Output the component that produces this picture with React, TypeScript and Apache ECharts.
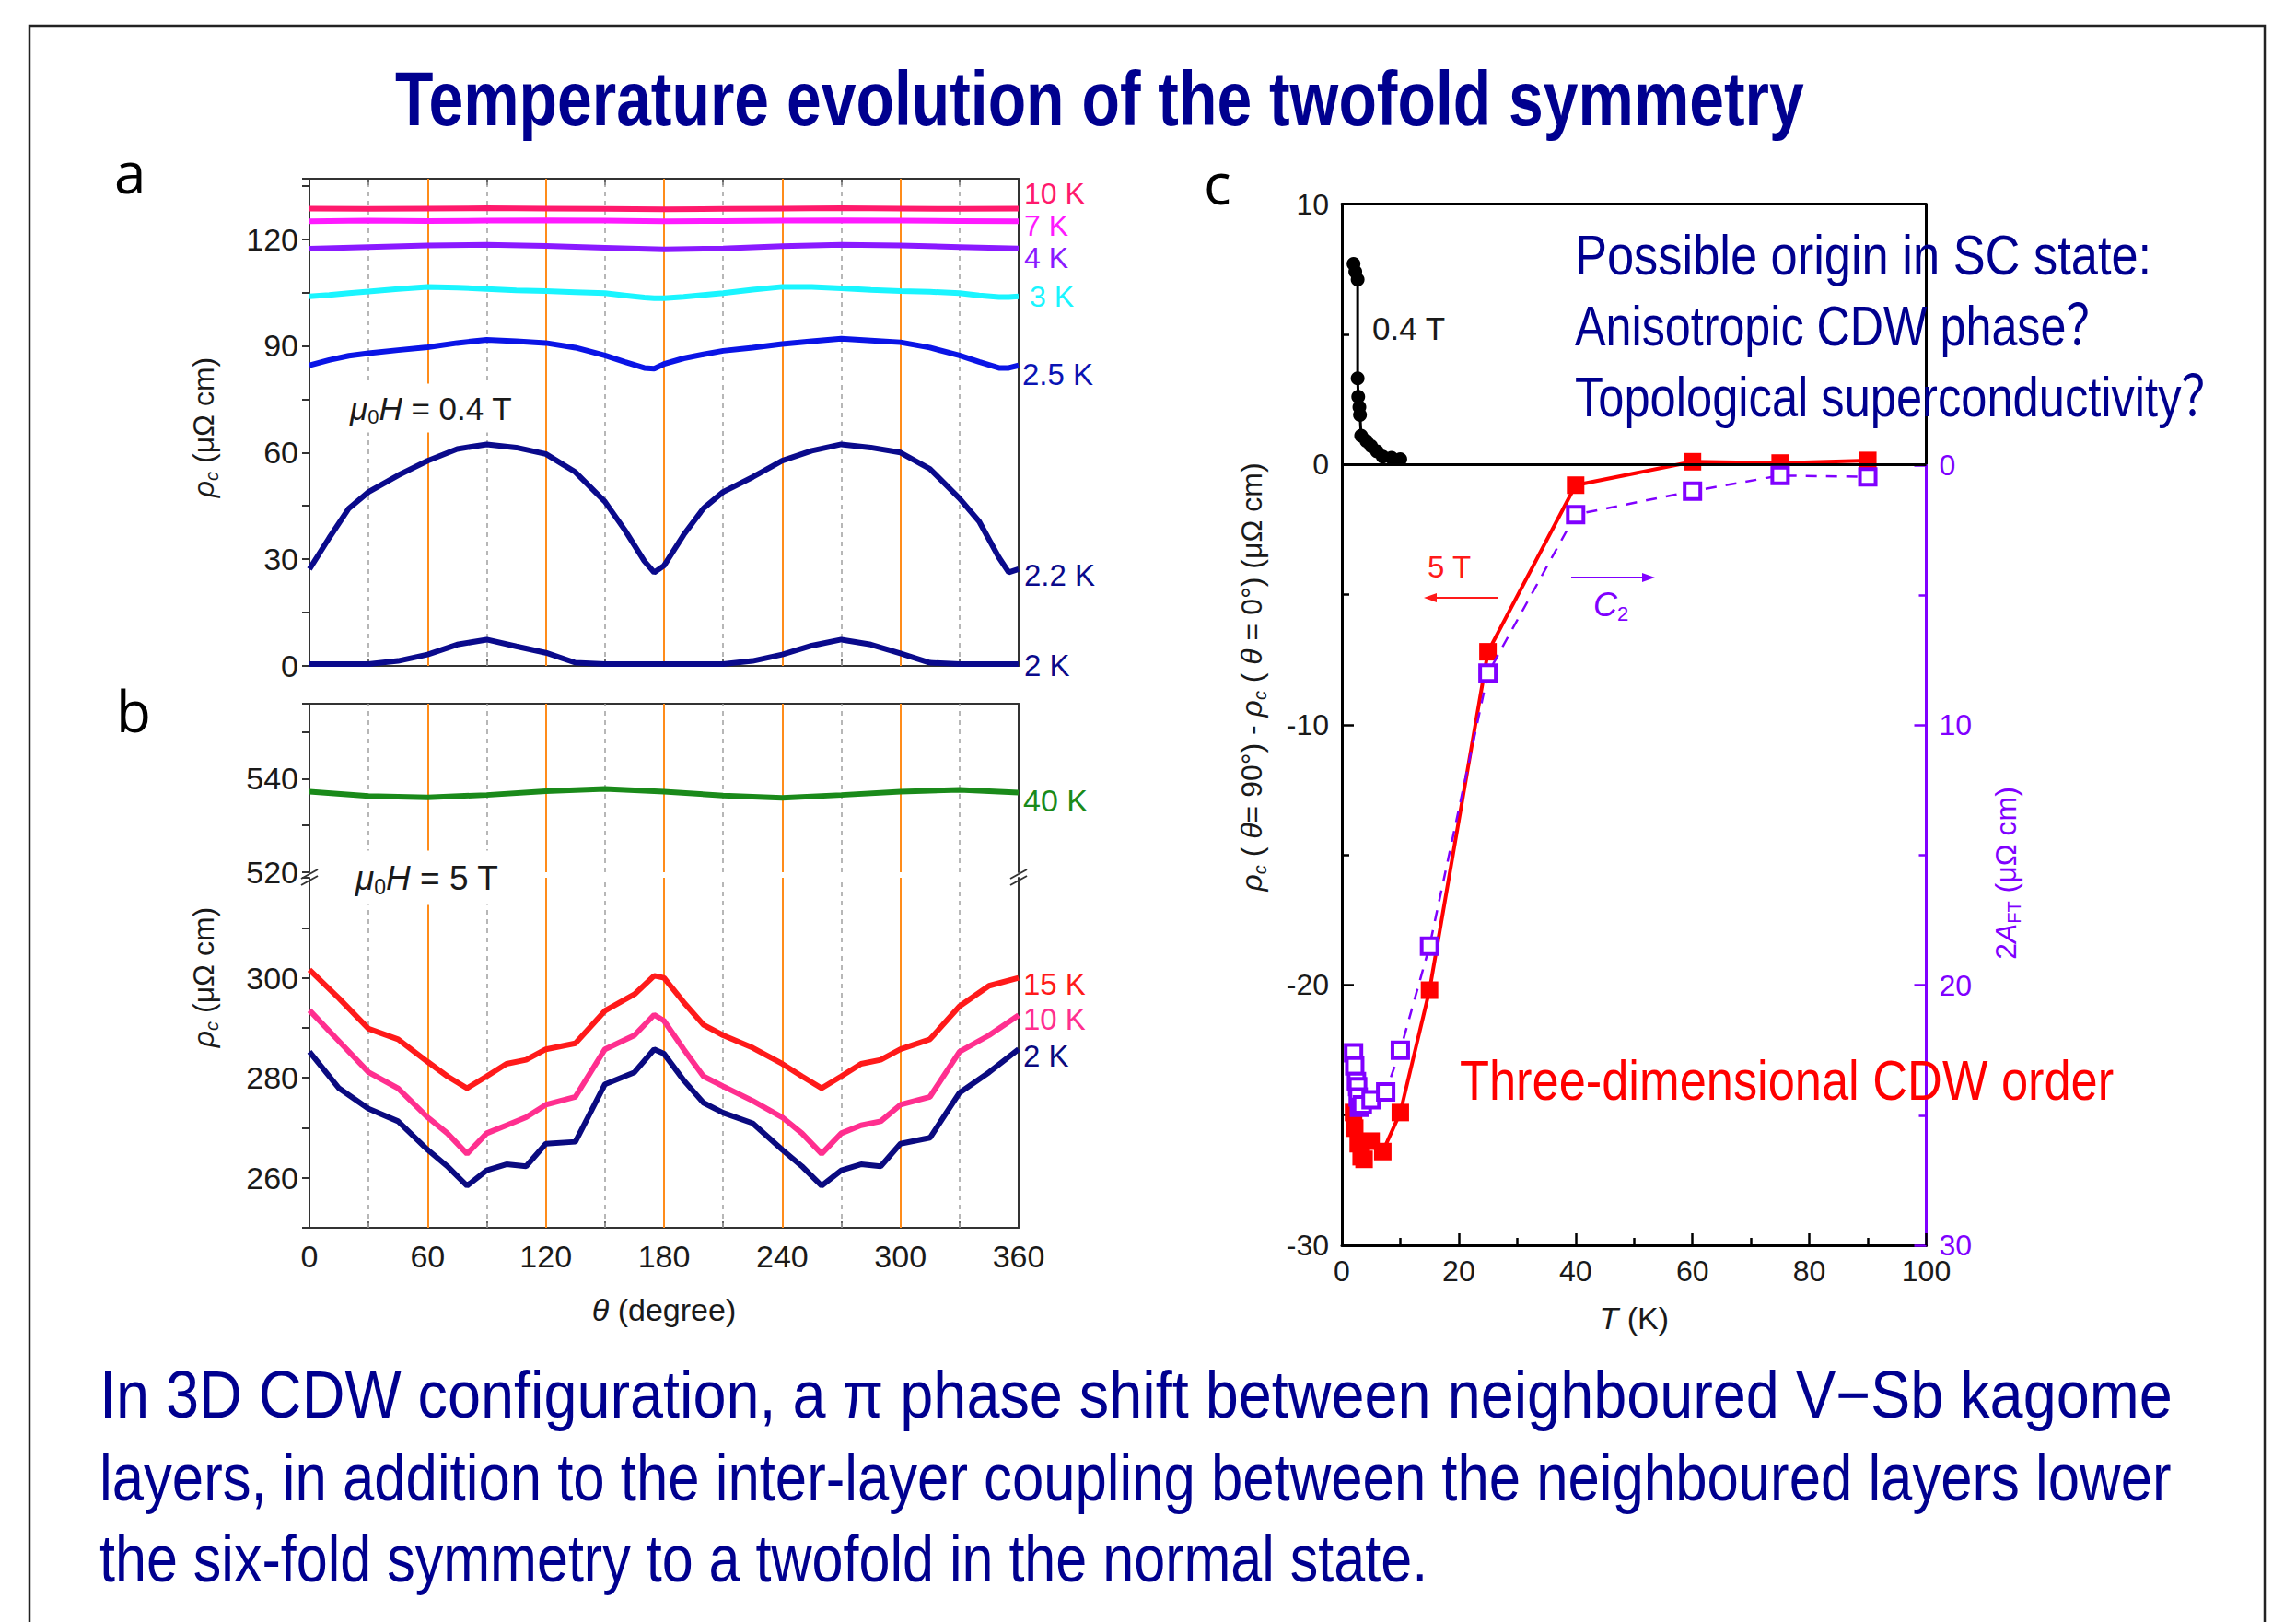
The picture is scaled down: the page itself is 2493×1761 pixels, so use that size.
import React, { useEffect, useRef } from 'react';
import * as echarts from 'echarts';

// ---------- DATA ----------
// Panel a (mu0H = 0.4 T), rho_c vs theta
const thetaA = [0, 10, 20, 30, 45, 60, 75, 90, 105, 120, 135, 150, 160, 170, 175, 180, 190, 200, 210, 225, 240, 255, 270, 285, 300, 315, 330, 340, 350, 355, 360];
const thetaB = [0, 30, 60, 90, 120, 150, 180, 210, 240, 270, 300, 330, 360];
const a10K = [128.6, 128.5, 128.6, 128.7, 128.6, 128.5, 128.4, 128.5, 128.6, 128.7, 128.6, 128.5, 128.6];
const a7K = [125.0, 125.2, 125.1, 125.2, 125.3, 125.2, 125.0, 125.1, 125.2, 125.3, 125.2, 125.1, 125.0];
const a4K = [117.3, 117.8, 118.2, 118.4, 118.1, 117.6, 117.1, 117.4, 118.0, 118.4, 118.2, 117.8, 117.4];
const a3K = [103.9, 104.3, 104.8, 105.3, 106, 106.6, 106.4, 106, 105.6, 105.4, 105.1, 104.8, 104.2, 103.6, 103.4, 103.4, 103.8, 104.3, 104.8, 105.8, 106.6, 106.6, 106.2, 105.7, 105.4, 105.2, 104.8, 104.2, 103.7, 103.7, 103.9];
const a25K = [84.5, 86, 87.2, 87.9, 88.8, 89.6, 90.8, 91.7, 91.3, 90.8, 89.5, 87.3, 85.5, 83.8, 83.6, 84.9, 86.5, 87.6, 88.6, 89.5, 90.5, 91.3, 92, 91.5, 91, 89.5, 87.3, 85.5, 83.8, 83.8, 84.5];
const a22K = [27.2, 36, 44.3, 48.9, 53.6, 57.7, 61, 62.3, 61.4, 59.6, 54.5, 46.2, 38.3, 29.5, 26.3, 28.2, 36.9, 44.3, 48.9, 53.1, 57.7, 60.5, 62.3, 61.4, 60, 55.4, 47.1, 40.6, 30.5, 26.3, 27.2];
const a2K = [0.5, 0.5, 0.5, 0.5, 1.4, 3.2, 6, 7.4, 5.5, 3.7, 0.9, 0.5, 0.5, 0.5, 0.5, 0.5, 0.5, 0.5, 0.5, 1.4, 3.2, 5.7, 7.4, 6, 3.5, 0.9, 0.5, 0.5, 0.5, 0.5, 0.5];

// Panel b (mu0H = 5 T)
const thetaC = [0, 15, 30, 45, 60, 70, 80, 90, 100, 110, 120, 135, 150, 165, 175, 180, 190, 200, 210, 225, 240, 250, 260, 270, 280, 290, 300, 315, 330, 345, 360];
const b40K = [537.2, 536.3, 536.0, 536.5, 537.3, 537.8, 537.2, 536.4, 535.9, 536.5, 537.2, 537.6, 537.0];
const b15K = [301.6, 295.9, 289.8, 287.7, 283.2, 280.3, 277.9, 280.3, 282.8, 283.6, 285.7, 286.9, 293.4, 296.7, 300.4, 300, 295.1, 290.6, 288.5, 286, 282.8, 280.3, 277.9, 280.3, 282.8, 283.6, 285.7, 287.7, 294.3, 298.4, 300];
const b10K = [293.5, 287.3, 281.1, 277.9, 272.1, 268.9, 264.8, 268.9, 270.5, 272.1, 274.6, 276.2, 285.7, 288.5, 292.6, 291.4, 285.7, 280.3, 278.3, 275.4, 272.1, 268.9, 264.8, 268.9, 270.5, 271.3, 274.6, 276.2, 285.2, 288.5, 292.5];
const b2K = [285.2, 277.9, 273.8, 271.3, 265.6, 262.3, 258.4, 261.5, 262.7, 262.3, 266.8, 267.2, 278.7, 281.1, 285.7, 284.8, 279.5, 275, 273, 270.9, 265.6, 262.3, 258.4, 261.5, 262.7, 262.3, 266.8, 268, 277, 281.1, 285.7];

const orangeLines = [60, 120, 180, 240, 300];
const greyLines = [30, 90, 150, 210, 270, 330];

// Panel c
const T04 = [2.0, 2.3, 2.7, 2.7, 2.8, 3.0, 3.1, 3.3, 4.2, 5.0, 6.0, 7.0, 8.5, 10.0];
const V04 = [7.7, 7.4, 7.1, 3.3, 2.6, 2.2, 1.9, 1.1, 0.9, 0.7, 0.5, 0.3, 0.25, 0.2];
const T5 = [2.0, 2.2, 2.8, 3.3, 3.8, 5, 7, 10, 15, 25, 40, 60, 75, 90];
const V5 = [-24.9, -25.5, -26.1, -26.6, -26.7, -26.0, -26.4, -24.9, -20.2, -7.2, -0.8, 0.1, 0.05, 0.15];
const TC2 = [2.0, 2.2, 2.5, 2.7, 2.8, 3.0, 3.5, 5, 7.5, 10, 15, 25, 40, 60, 75, 90];
const VC2 = [22.6, 23.1, 23.7, 23.9, 24.3, 24.7, 24.6, 24.4, 24.1, 22.5, 18.5, 8.0, 1.9, 1.0, 0.4, 0.45];

// ---------- STYLE ----------
const SANS = "'Liberation Sans', Arial, sans-serif";
const SANS_CJK = "'Liberation Sans', Arial, 'Noto Sans CJK SC', sans-serif";
const NAVY = '#00008f';
const PURPLE = '#8000ff';
const zip = (x: number[], y: number[]) => x.map((v, i) => [v, y[i]]);

export default function App() {
  const ref = useRef<HTMLDivElement>(null);
  useEffect(() => {
    const el = ref.current!;
    const chart = echarts.init(el, null, { renderer: 'svg', width: 2493, height: 1761 });
    const ctx = document.createElement('canvas').getContext('2d')!;
    const fit = (text: string, font: string, w: number) => {
      ctx.font = font;
      return w / ctx.measureText(text).width;
    };
    const scaled = (text: string, x: number, y: number, w: number, size: number, color: string, weight = 'normal') => {
      const s = fit(text, `${weight} ${size}px ${SANS_CJK}`, w);
      return {
        type: 'text', x, y, scaleX: s, scaleY: 1, z: 60, silent: true,
        style: { text, fontSize: size, fontFamily: SANS_CJK, fontWeight: weight, fill: color, align: 'left', verticalAlign: 'middle' },
      };
    };
    const plain = (text: string, x: number, y: number, size: number, color: string, extra: any = {}) => ({
      type: 'text', x, y, z: 60, silent: true,
      style: { text, fontSize: size, fontFamily: SANS, fill: color, align: 'left', verticalAlign: 'middle', ...extra },
    });
    const richTok = (size: number) => ({
      i: { fontStyle: 'italic', fontSize: size, lineHeight: size + 6, fontFamily: SANS },
      n: { fontSize: size, lineHeight: size + 6, fontFamily: SANS },
      s: { fontStyle: 'italic', fontSize: Math.round(size * 0.62), lineHeight: Math.round(size * 0.62), verticalAlign: 'bottom', fontFamily: SANS },
      u: { fontSize: Math.round(size * 0.62), lineHeight: Math.round(size * 0.62), verticalAlign: 'bottom', fontFamily: SANS },
    });
    const rotTitle = (text: string, x: number, y: number, size: number, color: string) => ({
      type: 'text', x, y, rotation: Math.PI / 2, z: 60, silent: true,
      style: { text, fill: color, fontSize: size, fontFamily: SANS, align: 'center', verticalAlign: 'middle', rich: richTok(size) },
    });

    const axA = { show: true, onZero: false, lineStyle: { color: '#333', width: 2 } };
    const axC = { show: true, onZero: false, lineStyle: { color: '#000', width: 3 } };
    const lbl = { fontSize: 34, fontFamily: SANS, color: '#1a1a1a' };

    const thetaAxis = (gridIndex: number, position: string, showLabels: boolean, ticks = true, name?: string) => ({
      type: 'value', gridIndex, position, min: 0, max: 360, interval: 60,
      axisLine: axA,
      axisTick: { show: ticks, inside: true, length: 10, lineStyle: { color: '#333', width: 2 } },
      minorTick: { show: ticks, splitNumber: 2, length: 7, lineStyle: { color: '#333', width: 1.5 } },
      axisLabel: { show: showLabels, ...lbl, margin: 14 },
      splitLine: { show: false }, minorSplitLine: { show: false },
      name, nameLocation: 'middle', nameGap: 72,
      nameTextStyle: { fontSize: 34, fontFamily: SANS, color: '#1a1a1a', rich: { i: { fontStyle: 'italic', fontSize: 34, fontFamily: SANS, color: '#1a1a1a' }, n: { fontSize: 34, fontFamily: SANS, color: '#1a1a1a' } } },
    });
    const rightLine = (gridIndex: number, min: number, max: number) => ({
      type: 'value', gridIndex, position: 'right', min, max,
      axisLine: axA, axisTick: { show: false }, axisLabel: { show: false }, splitLine: { show: false },
    });
    const leftAxis = (gridIndex: number, min: number, max: number, interval: number, shown: number[]) => ({
      type: 'value', gridIndex, position: 'left', min, max, interval,
      axisLine: axA,
      axisTick: { show: true, inside: false, length: 8, lineStyle: { color: '#333', width: 2 } },
      axisLabel: { ...lbl, margin: 12, formatter: (v: number) => (shown.includes(v) ? String(v) : '') },
      splitLine: { show: false },
    });

    const refLines = (xi: number, yi: number) => ({
      type: 'line', xAxisIndex: xi, yAxisIndex: yi, data: [], z: 1, silent: true,
      markLine: {
        silent: true, z: 1, symbol: ['none', 'none'], label: { show: false }, animation: false,
        data: [
          ...orangeLines.map((v) => ({ xAxis: v, lineStyle: { color: '#ff8c1a', width: 2, type: 'solid' } })),
          ...greyLines.map((v) => ({ xAxis: v, lineStyle: { color: '#a0a0a0', width: 1.5, type: [5, 5] } })),
        ],
      },
    });
    const curve = (name: string, xi: number, yi: number, xs: number[], ys: number[], color: string) => ({
      name, type: 'line', xAxisIndex: xi, yAxisIndex: yi, data: zip(xs, ys), showSymbol: false, z: 3,
      lineStyle: { color, width: 6 }, itemStyle: { color }, smooth: false,
    });

    const option: any = {
      animation: false,
      backgroundColor: '#ffffff',
      grid: [
        { left: 336, top: 194, width: 770, height: 529 },
        { left: 336, top: 764, width: 770, height: 183 },
        { left: 336, top: 953, width: 770, height: 380 },
        { left: 1457, top: 221.5, width: 634.5, height: 1130.5 },
        { left: 1457, top: 505, width: 634.5, height: 847 },
      ],
      xAxis: [
        thetaAxis(0, 'bottom', false),
        thetaAxis(0, 'top', false),
        thetaAxis(1, 'top', false, false),
        thetaAxis(2, 'bottom', true, true, '{i|θ}{n| (degree)}'),
        {
          type: 'value', gridIndex: 3, position: 'bottom', min: 0, max: 100, interval: 20,
          axisLine: axC,
          axisTick: { show: true, inside: true, length: 13, lineStyle: { color: '#000', width: 2.5 } },
          minorTick: { show: true, splitNumber: 2, length: 8, lineStyle: { color: '#000', width: 2.5 } },
          axisLabel: { fontSize: 32, fontFamily: SANS, color: '#1a1a1a', margin: 12 },
          splitLine: { show: false },
          name: '{i|T}{n| (K)}', nameLocation: 'middle', nameGap: 62,
          nameTextStyle: { fontSize: 34, fontFamily: SANS, color: '#1a1a1a', rich: { i: { fontStyle: 'italic', fontSize: 34, fontFamily: SANS, color: '#1a1a1a' }, n: { fontSize: 34, fontFamily: SANS, color: '#1a1a1a' } } },
        },
        {
          type: 'value', gridIndex: 3, position: 'top', min: 0, max: 100,
          axisLine: axC, axisTick: { show: false }, axisLabel: { show: false }, splitLine: { show: false },
        },
        { type: 'value', gridIndex: 4, min: 0, max: 100, show: false, axisLine: { onZero: false } },
      ],
      yAxis: [
        leftAxis(0, 0, 137, 15, [0, 30, 60, 90, 120]),
        rightLine(0, 0, 137),
        leftAxis(1, 520, 556, 10, [520, 540]),
        rightLine(1, 520, 556),
        leftAxis(2, 250, 320, 10, [260, 280, 300]),
        rightLine(2, 250, 320),
        {
          type: 'value', gridIndex: 3, position: 'left', min: -30, max: 10, interval: 10,
          axisLine: axC,
          axisTick: { show: true, inside: true, length: 13, lineStyle: { color: '#000', width: 2.5 } },
          minorTick: { show: true, splitNumber: 2, length: 8, lineStyle: { color: '#000', width: 2.5 } },
          axisLabel: { fontSize: 32, fontFamily: SANS, color: '#1a1a1a', margin: 14 },
          splitLine: { show: false },
        },
        {
          type: 'value', gridIndex: 4, position: 'right', inverse: true, min: 0, max: 30, interval: 10,
          axisLine: { show: true, onZero: false, lineStyle: { color: PURPLE, width: 3 } },
          axisTick: { show: true, inside: true, length: 13, lineStyle: { color: PURPLE, width: 2.5 } },
          minorTick: { show: true, splitNumber: 2, length: 8, lineStyle: { color: PURPLE, width: 2.5 } },
          axisLabel: { fontSize: 32, fontFamily: SANS, color: PURPLE, margin: 14 },
          splitLine: { show: false },
        },
      ],
      series: [
        refLines(0, 0),
        curve('10 K', 0, 0, thetaB, a10K, '#ff1a6c'),
        curve('7 K', 0, 0, thetaB, a7K, '#ff1aff'),
        curve('4 K', 0, 0, thetaB, a4K, '#8a1aff'),
        curve('3 K', 0, 0, thetaA, a3K, '#1af5ff'),
        curve('2.5 K', 0, 0, thetaA, a25K, '#0a14e6'),
        curve('2.2 K', 0, 0, thetaA, a22K, '#0a0a8c'),
        curve('2 K', 0, 0, thetaA, a2K, '#0a0a8c'),
        refLines(2, 2),
        curve('40 K', 2, 2, thetaB, b40K, '#1a8a1a'),
        refLines(3, 4),
        curve('15 K', 3, 4, thetaC, b15K, '#ff1a1a'),
        curve('10 K b', 3, 4, thetaC, b10K, '#ff2f8f'),
        curve('2 K b', 3, 4, thetaC, b2K, '#0a0a80'),
        {
          name: '0.4 T', type: 'line', xAxisIndex: 4, yAxisIndex: 6, data: zip(T04, V04), z: 4,
          symbol: 'circle', symbolSize: 15, lineStyle: { color: '#000', width: 3 }, itemStyle: { color: '#000' },
          markLine: {
            silent: true, symbol: ['none', 'none'], label: { show: false }, animation: false,
            lineStyle: { color: '#000', width: 3, type: 'solid' },
            data: [{ yAxis: 0 }, [{ coord: [100, 10] }, { coord: [100, 0] }]],
          },
        },
        {
          name: '5 T', type: 'line', xAxisIndex: 4, yAxisIndex: 6, data: zip(T5, V5), z: 4,
          symbol: 'rect', symbolSize: 19, lineStyle: { color: '#ff0000', width: 4 }, itemStyle: { color: '#ff0000' },
        },
        {
          name: 'C2', type: 'line', xAxisIndex: 6, yAxisIndex: 7, data: zip(TC2, VC2), z: 5,
          symbol: 'rect', symbolSize: 17, lineStyle: { color: PURPLE, width: 2.5, type: [12, 10] },
          itemStyle: { color: '#ffffff', borderColor: PURPLE, borderWidth: 4 },
        },
      ],
      graphic: [
        { type: 'rect', z: 0, silent: true, shape: { x: 32, y: 28, width: 2427, height: 1800 }, style: { fill: 'none', stroke: '#222', lineWidth: 2.5 } },
        scaled('Temperature evolution of the twofold symmetry', 429, 107, 1530, 84, NAVY, 'bold'),
        { type: 'text', x: 124, y: 186, z: 60, style: { text: 'a', fontSize: 62, fontFamily: "'Open Sans', sans-serif", fill: '#000', verticalAlign: 'middle' } },
        { type: 'text', x: 126, y: 771, z: 60, style: { text: 'b', fontSize: 62, fontFamily: "'Open Sans', sans-serif", fill: '#000', verticalAlign: 'middle' } },
        { type: 'text', x: 1307, y: 198, z: 60, style: { text: 'c', fontSize: 62, fontFamily: "'Open Sans', sans-serif", fill: '#000', verticalAlign: 'middle' } },
        // series labels panel a
        plain('10 K', 1112, 210, 32, '#ff1a6c'),
        plain('7 K', 1112, 245, 32, '#ff1aff'),
        plain('4 K', 1112, 280, 32, '#8a1aff'),
        plain('3 K', 1118, 322, 32, '#1af5ff'),
        plain('2.5 K', 1110, 406, 33, '#0a14b4'),
        plain('2.2 K', 1112, 624, 33, '#0a0a8c'),
        plain('2 K', 1112, 722, 33, '#0a0a8c'),
        // series labels panel b
        plain('40 K', 1111, 869, 34, '#1a8a1a'),
        plain('15 K', 1111, 1068, 33, '#ff1a1a'),
        plain('10 K', 1111, 1106, 33, '#ff2f8f'),
        plain('2 K', 1111, 1146, 33, '#0a0a80'),
        // field annotations
        {
          type: 'text', x: 374, y: 443, z: 60, silent: true,
          style: { text: '{i|μ}{u|0}{i|H}{n| = 0.4 T}', fill: '#1a1a1a', fontSize: 35, fontFamily: SANS, verticalAlign: 'middle', backgroundColor: '#fff', padding: [6, 6], rich: richTok(35) },
        },
        {
          type: 'text', x: 380, y: 953, z: 60, silent: true,
          style: { text: '{i|μ}{u|0}{i|H}{n| = 5 T}', fill: '#1a1a1a', fontSize: 37, fontFamily: SANS, verticalAlign: 'middle', backgroundColor: '#fff', padding: [8, 6], rich: richTok(37) },
        },
        // axis break marks
        { type: 'line', z: 60, shape: { x1: 327, y1: 954, x2: 345, y2: 944 }, style: { stroke: '#333', lineWidth: 2 } },
        { type: 'line', z: 60, shape: { x1: 327, y1: 961, x2: 345, y2: 951 }, style: { stroke: '#333', lineWidth: 2 } },
        { type: 'line', z: 60, shape: { x1: 1097, y1: 954, x2: 1115, y2: 944 }, style: { stroke: '#333', lineWidth: 2 } },
        { type: 'line', z: 60, shape: { x1: 1097, y1: 961, x2: 1115, y2: 951 }, style: { stroke: '#333', lineWidth: 2 } },
        // rotated axis titles
        rotTitle('{i|ρ}{s|c}{n| (μΩ cm)}', 221, 464, 32, '#1a1a1a'),
        rotTitle('{i|ρ}{s|c}{n| (μΩ cm)}', 221, 1061, 32, '#1a1a1a'),
        rotTitle('{i|ρ}{s|c}{n| ( }{i|θ}{n|= 90°) - }{i|ρ}{s|c}{n| ( }{i|θ}{n| = 0°) (μΩ cm)}', 1359, 735, 32, '#1a1a1a'),
        rotTitle('{n|2}{i|A}{u|FT}{n| (μΩ cm)}', 2178, 948, 32, PURPLE),
        // panel c annotations
        plain('0.4 T', 1490, 356, 35, '#1a1a1a'),
        plain('5 T', 1550, 615, 33, '#ff1a1a'),
        { type: 'line', z: 60, shape: { x1: 1626, y1: 649, x2: 1553, y2: 649 }, style: { stroke: '#ff1a1a', lineWidth: 2 } },
        { type: 'polygon', z: 60, shape: { points: [[1546, 649], [1560, 644], [1560, 654]] }, style: { fill: '#ff1a1a' } },
        { type: 'line', z: 60, shape: { x1: 1706, y1: 627, x2: 1790, y2: 627 }, style: { stroke: PURPLE, lineWidth: 2 } },
        { type: 'polygon', z: 60, shape: { points: [[1797, 627], [1783, 622], [1783, 632]] }, style: { fill: PURPLE } },
        {
          type: 'text', x: 1730, y: 656, z: 60, silent: true,
          style: { text: '{i|C}{u|2}', fill: PURPLE, fontSize: 36, fontFamily: SANS, verticalAlign: 'middle', rich: richTok(36) },
        },
        scaled('Possible origin in SC state:', 1710, 277, 626, 61, NAVY),
        scaled('Anisotropic CDW phase？', 1710, 354, 584, 61, NAVY),
        scaled('Topological superconductivity？', 1710, 431, 709, 61, NAVY),
        scaled('Three-dimensional CDW order', 1585, 1172, 710, 62, '#ff0000'),
        // bottom paragraph
        scaled('In 3D CDW configuration, a π phase shift between neighboured V−Sb kagome', 108, 1514, 2250, 72, NAVY),
        scaled('layers, in addition to the inter-layer coupling between the neighboured layers lower', 108, 1604, 2250, 72, NAVY),
        scaled('the six-fold symmetry to a twofold in the normal state.', 108, 1692, 1442, 72, NAVY),
      ],
    };
    chart.setOption(option);
    return () => chart.dispose();
  }, []);
  return <div ref={ref} style={{ position: 'fixed', left: 0, top: 0, width: 2493, height: 1761, background: '#fff' }} />;
}
